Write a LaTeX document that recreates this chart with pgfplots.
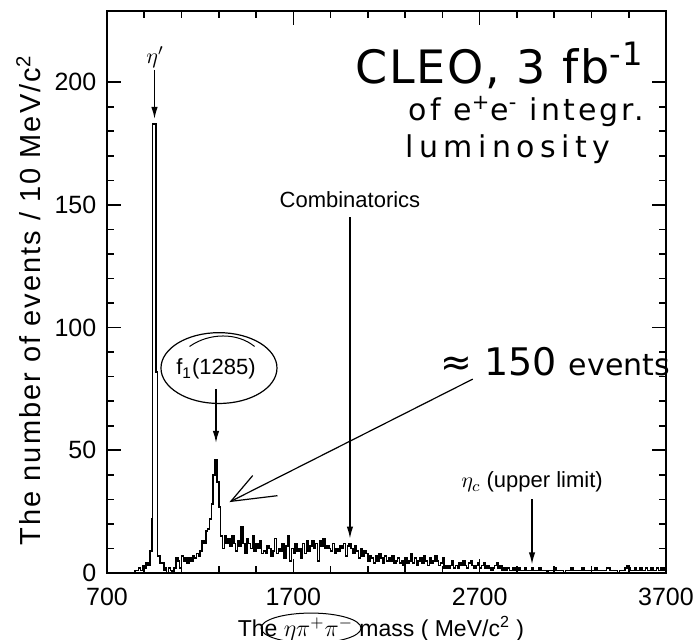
\documentclass[border=0pt]{standalone}
\usepackage{fontspec}
\setmainfont{Liberation Sans}
\newfontfamily\hand{DejaVu Sans}
\usepackage{pgfplots}
\pgfplotsset{compat=1.18}
\usetikzlibrary{arrows.meta}
\begin{document}
\fontsize{12.5}{15}\selectfont
\begin{tikzpicture}
\path[use as bounding box] (-53.5pt,-33.5pt) rectangle (293pt,286.5pt);
\begin{axis}[
  at={(0,0)}, anchor=south west,
  scale only axis, width=279.5pt, height=281pt,
  xmin=700, xmax=3700, ymin=0, ymax=229,
  xtick={700,1700,2700,3700},
  ytick={0,50,100,150,200},
  minor x tick num=4, minor y tick num=4,
  tick align=inside,
  major tick length=7pt, minor tick length=3.5pt,
  tick style={line width=0.8pt, black},
  axis line style={line width=1pt},
  /pgf/number format/assume math mode=true,
  /pgf/number format/set thousands separator={},
  ticklabel style={font=\fontsize{12.5}{15}\selectfont},
  xticklabel style={yshift=-3pt},
  yticklabel style={xshift=-1pt},
  xlabel={The $\eta\pi^{+}\pi^{-}$ mass ( MeV/c\textsuperscript{2} )},
  ylabel={\addfontfeature{LetterSpace=7}The number of events / 10 MeV/c\textsuperscript{2}},
  xlabel style={at={(axis description cs:0.49,0)}, anchor=center, yshift=-28pt, font=\fontsize{11.5}{14}\selectfont},
  ylabel style={at={(axis description cs:-0.14,0.485)}, anchor=center, font=\fontsize{14.5}{16}\selectfont},
  clip=false,
]
\addplot[const plot, black, line width=0.8pt] coordinates {
(700,0) (850,1) (860,1) (870,2) (880,1) (890,3) (900,2) (910,4) (920,3) (930,9)
(940,22) (945,183) (962,82) (972,7) (985,4) (995,4) (1005,1) (1010,2) (1020,0) (1030,2)
(1040,1) (1050,0) (1060,2) (1070,6) (1080,5) (1090,2) (1100,7) (1110,5) (1120,6) (1130,4)
(1140,6) (1150,5) (1160,7) (1170,6) (1180,8) (1190,7) (1200,9) (1210,13) (1220,12) (1230,17)
(1240,18) (1250,22) (1260,28) (1270,40) (1280,46) (1290,37) (1300,27) (1310,15) (1320,10) (1330,15)
(1340,12) (1350,14) (1360,11) (1370,15) (1380,12) (1390,9) (1400,13) (1410,11) (1420,19) (1430,12)
(1440,8) (1450,14) (1460,12) (1470,10) (1480,15) (1490,9) (1500,12) (1510,10) (1520,13) (1530,8)
(1540,9) (1550,8) (1560,11) (1570,10) (1580,7) (1590,9) (1600,14) (1610,8) (1620,10) (1630,9)
(1640,12) (1650,6) (1660,11) (1670,15) (1680,5) (1690,10) (1700,8) (1710,12) (1720,9) (1730,10)
(1740,6) (1750,12) (1760,8) (1770,13) (1780,9) (1790,11) (1800,13) (1810,10) (1820,12) (1830,5)
(1840,13) (1850,11) (1860,14) (1870,10) (1880,11) (1890,10) (1900,9) (1910,12) (1920,8) (1930,10)
(1940,9) (1950,11) (1960,10) (1970,12) (1980,7) (1990,11) (2000,12) (2010,10) (2020,8) (2030,11)
(2040,9) (2050,6) (2060,10) (2070,7) (2080,9) (2090,8) (2100,5) (2110,7) (2120,6) (2130,4)
(2140,7) (2150,5) (2160,8) (2170,6) (2180,4) (2190,7) (2200,5) (2210,6) (2220,5) (2230,7)
(2240,4) (2250,5) (2260,6) (2270,4) (2280,5) (2290,3) (2300,6) (2310,4) (2320,5) (2330,8)
(2340,4) (2350,6) (2360,3) (2370,5) (2380,6) (2390,4) (2400,7) (2410,5) (2420,3) (2430,6)
(2440,4) (2450,5) (2460,7) (2470,5) (2480,3) (2490,4) (2500,6) (2510,2) (2520,3) (2530,2)
(2540,3) (2550,5) (2560,2) (2570,3) (2580,2) (2590,4) (2600,3) (2610,5) (2620,3) (2630,2)
(2640,4) (2650,5) (2660,3) (2670,2) (2680,3) (2690,4) (2700,2) (2710,3) (2720,4) (2730,2)
(2740,3) (2750,2) (2760,1) (2770,2) (2780,3) (2790,4) (2800,2) (2810,3) (2820,1) (2830,2)
(2840,1) (2850,2) (2860,1) (2870,1) (2880,2) (2890,1) (2900,1) (2910,2) (2920,1) (2930,1)
(2940,2) (2950,1) (2960,1) (2970,1) (2980,2) (2990,1) (3000,1) (3010,1) (3020,2) (3030,1)
(3040,1) (3050,1) (3060,0) (3070,1) (3080,1) (3090,1) (3100,2) (3110,1) (3120,1) (3130,1)
(3140,1) (3150,0) (3160,1) (3170,1) (3180,1) (3190,2) (3200,1) (3210,1) (3220,1) (3230,1)
(3240,1) (3250,2) (3260,1) (3270,1) (3280,1) (3290,1) (3300,1) (3310,1) (3320,2) (3330,1)
(3340,1) (3350,1) (3360,1) (3370,1) (3380,2) (3390,2) (3400,1) (3410,1) (3420,1) (3430,1)
(3440,0) (3450,1) (3460,1) (3470,1) (3480,2) (3490,3) (3500,2) (3510,1) (3520,1) (3530,2)
(3540,1) (3550,1) (3560,2) (3570,1) (3580,1) (3590,2) (3600,1) (3610,1) (3620,2) (3630,1)
(3640,1) (3650,2) (3660,1) (3670,2) (3680,1) (3690,2) (3700,3)
};
% printed annotations
\node[font=\fontsize{11}{13}\selectfont] at (axis cs:958,210) {$\eta'$};
\draw[line width=0.7pt, -{Latex[length=6pt,width=3.2pt]}] (axis cs:955,205) -- (axis cs:955,185);
\node[font=\fontsize{11}{13}\selectfont] at (axis cs:2004,152) {Combinatorics};
\draw[line width=0.7pt, -{Latex[length=6pt,width=3.2pt]}] (axis cs:2004,145) -- (axis cs:2004,14);
\node[font=\fontsize{11}{13}\selectfont] at (axis cs:1285,83) {f\textsubscript{1}(1285)};
\draw[line width=0.7pt, -{Latex[length=6pt,width=3.2pt]}] (axis cs:1285,75) -- (axis cs:1285,53);
\node[font=\fontsize{11}{13}\selectfont] at (axis cs:2981,37) {$\eta_c$ (upper limit)};
\draw[line width=0.7pt, -{Latex[length=6pt,width=3.2pt]}] (axis cs:2981,30) -- (axis cs:2981,3.5);
% handwritten annotations
\node[font=\hand\fontsize{23}{25}\selectfont\addfontfeature{LetterSpace=4}] at (axis cs:2809,207) {CLEO, 3 fb\textsuperscript{-1}};
\node[font=\hand\fontsize{15}{17}\selectfont\addfontfeature{LetterSpace=10}] at (axis cs:2950,188) {of e\textsuperscript{+}e\textsuperscript{-} integr.};
\node[font=\hand\fontsize{15}{17}\selectfont\addfontfeature{LetterSpace=18}] at (axis cs:2852,172.5) {luminosity};
\node[font=\hand\fontsize{19}{22}\selectfont] at (axis cs:3105,86) {≈ 150 {\fontsize{15}{18}\selectfont events}};
\draw[line width=0.6pt] (axis cs:2663,79) -- (axis cs:1365,29.2);
\draw[line width=0.6pt] (axis cs:1482,39.7) -- (axis cs:1365,29.2) -- (axis cs:1615,31.5);
\draw[line width=0.6pt] (axis cs:1301,83.5) ellipse [x radius=29pt, y radius=17.7pt];
\draw[line width=0.5pt] (axis cs:1143,92.3) .. controls (axis cs:1250,98) and (axis cs:1400,98) .. (axis cs:1492,92.3);
\draw[line width=0.5pt] (axis description cs:0.365,-0.098) ellipse [x radius=25pt, y radius=7.5pt];
\end{axis}
\end{tikzpicture}
\end{document}
